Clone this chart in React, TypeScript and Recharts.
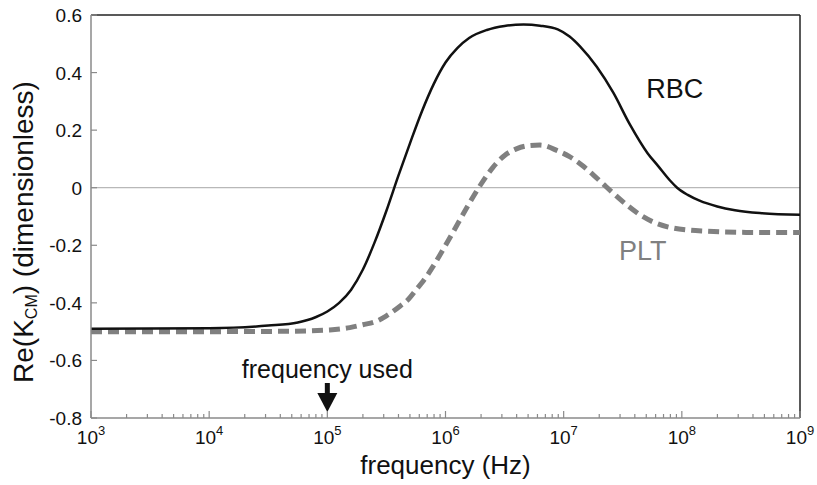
import React from 'react';
import { LineChart, Line, XAxis, YAxis, ReferenceLine, ReferenceDot } from 'recharts';

// x values are log10(frequency in Hz)
const rbcLogF = [3.0, 4.0, 4.5, 4.75, 4.9, 5.0, 5.1, 5.2, 5.3, 5.4, 5.5, 5.6, 5.7, 5.8, 5.9, 6.0, 6.1, 6.2, 6.35, 6.5, 6.66, 6.8, 6.95, 7.05, 7.14, 7.28, 7.42, 7.56, 7.71, 7.8, 7.9, 7.96, 8.05, 8.15, 8.3, 8.45, 8.66, 9.0];
const rbcRe = [-0.49, -0.488, -0.479, -0.468, -0.45, -0.43, -0.4, -0.355, -0.285, -0.19, -0.08, 0.04, 0.155, 0.265, 0.36, 0.435, 0.485, 0.52, 0.548, 0.562, 0.567, 0.563, 0.55, 0.525, 0.49, 0.42, 0.33, 0.22, 0.12, 0.075, 0.025, 0.0, -0.025, -0.045, -0.065, -0.078, -0.088, -0.094];

const pltLogF = [3.0, 4.0, 4.6, 5.02, 5.19, 5.3, 5.42, 5.5, 5.62, 5.68, 5.76, 5.81, 5.9, 6.0, 6.1, 6.2, 6.3, 6.4, 6.5, 6.6, 6.7, 6.8, 6.95, 7.05, 7.15, 7.25, 7.35, 7.45, 7.55, 7.65, 7.78, 7.9, 8.05, 8.2, 8.5, 9.0];
const pltRe = [-0.5, -0.5, -0.499, -0.494, -0.486, -0.476, -0.463, -0.445, -0.41, -0.39, -0.35, -0.325, -0.27, -0.2, -0.128, -0.055, 0.012, 0.07, 0.112, 0.135, 0.146, 0.148, 0.128, 0.108, 0.08, 0.045, 0.007, -0.03, -0.065, -0.095, -0.123, -0.138, -0.147, -0.151, -0.155, -0.156];

const decades = [3, 4, 5, 6, 7, 8, 9];
const yTicks = [-0.8, -0.6, -0.4, -0.2, 0, 0.2, 0.4, 0.6];
const usedLogF = 5;

const rbcData = rbcLogF.map((x, i) => ({ x, y: rbcRe[i] }));
const pltData = pltLogF.map((x, i) => ({ x, y: pltRe[i] }));

// major + minor ticks on the log axis
const xTicks: number[] = [];
decades.forEach((d) => {
  xTicks.push(d);
  if (d < 9) {
    for (let m = 2; m <= 9; m++) xTicks.push(d + Math.log10(m));
  }
});

const font = 'Arial, "Liberation Sans", Helvetica, sans-serif';
const axisGray = '#8a8a8a';

const XTick = (props: any) => {
  const { x, y, payload } = props;
  const v = payload.value;
  const major = Math.abs(v - Math.round(v)) < 1e-6;
  return (
    <g>
      <line x1={x} x2={x} y1={y} y2={y - (major ? 7 : 4)} stroke={axisGray} strokeWidth={1.2} />
      {major && (
        <text x={x} y={y + 26} textAnchor="middle" fontFamily={font} fontSize={19} fill="#111">
          10<tspan fontSize={13} dy={-9}>{Math.round(v)}</tspan>
        </text>
      )}
    </g>
  );
};

const YTick = (props: any) => {
  const { x, y, payload } = props;
  return (
    <g>
      <line x1={x} x2={x + 6} y1={y} y2={y} stroke={axisGray} strokeWidth={1.2} />
      <text x={x - 9} y={y + 7} textAnchor="end" fontFamily={font} fontSize={19} fill="#111">
        {payload.value === 0 ? '0' : payload.value.toFixed(1)}
      </text>
    </g>
  );
};

const YLabel = () => (
  <text x={33} y={232} transform="rotate(-90 33 232)" textAnchor="middle" fontFamily={font} fontSize={28} fill="#111">
    Re(K<tspan fontSize={16} dy={4}>CM</tspan>
    <tspan fontSize={28} dy={-4}>) (dimensionless)</tspan>
  </text>
);

const XLabel = (props: any) => {
  const { viewBox } = props;
  const cx = viewBox.x + viewBox.width / 2;
  return (
    <text x={cx} y={viewBox.y + 56} textAnchor="middle" fontFamily={font} fontSize={26} fill="#111">
      frequency (Hz)
    </text>
  );
};

const Arrow = (props: any) => {
  const { cx, cy } = props;
  return (
    <g>
      <rect x={cx - 2.5} y={cy - 35} width={5} height={12} fill="#111" />
      <path d={`M ${cx - 10} ${cy - 25} L ${cx + 10} ${cy - 25} L ${cx} ${cy - 6} Z`} fill="#111" />
      <text x={cx} y={cy - 40} textAnchor="middle" fontFamily={font} fontSize={25} fill="#111">
        frequency used
      </text>
    </g>
  );
};

const SeriesLabel = (text: string, color: string) => (props: any) => (
  <text x={props.cx} y={props.cy} textAnchor="middle" fontFamily={font} fontSize={27} fill={color}>
    {text}
  </text>
);

export default function App() {
  return (
    <div style={{ width: 817, height: 485, background: '#fff' }}>
      <style>{'body{margin:0}'}</style>
      <LineChart width={817} height={485} margin={{ top: 15, right: 17, bottom: 0, left: 0 }}>
        <XAxis
          type="number"
          dataKey="x"
          domain={[3, 9]}
          ticks={xTicks}
          interval={0}
          tick={<XTick />}
          tickLine={false}
          tickSize={0}
          tickMargin={0}
          height={67}
          axisLine={{ stroke: axisGray, strokeWidth: 1.5 }}
          label={<XLabel />}
          allowDataOverflow
        />
        <YAxis
          type="number"
          domain={[-0.8, 0.6]}
          ticks={yTicks}
          interval={0}
          tick={<YTick />}
          tickLine={false}
          tickSize={0}
          tickMargin={0}
          width={91}
          axisLine={{ stroke: axisGray, strokeWidth: 1.5 }}
          label={<YLabel />}
          allowDataOverflow
        />
        <ReferenceLine y={0} stroke="#b8b8b8" strokeWidth={1.2} />
        <ReferenceLine y={0.6} stroke="#222" strokeWidth={1.5} />
        <ReferenceLine x={9} stroke="#222" strokeWidth={1.5} />
        <Line
          data={pltData}
          dataKey="y"
          type="monotone"
          stroke="#808080"
          strokeWidth={5}
          strokeDasharray="11 6"
          dot={false}
          isAnimationActive={false}
        />
        <Line
          data={rbcData}
          dataKey="y"
          type="monotone"
          stroke="#111"
          strokeWidth={2.5}
          dot={false}
          isAnimationActive={false}
        />
        <ReferenceDot x={usedLogF} y={-0.8} r={0} shape={<Arrow />} />
        <ReferenceDot x={7.94} y={0.31} r={0} shape={SeriesLabel('RBC', '#111')} />
        <ReferenceDot x={7.67} y={-0.25} r={0} shape={SeriesLabel('PLT', '#808080')} />
      </LineChart>
    </div>
  );
}
